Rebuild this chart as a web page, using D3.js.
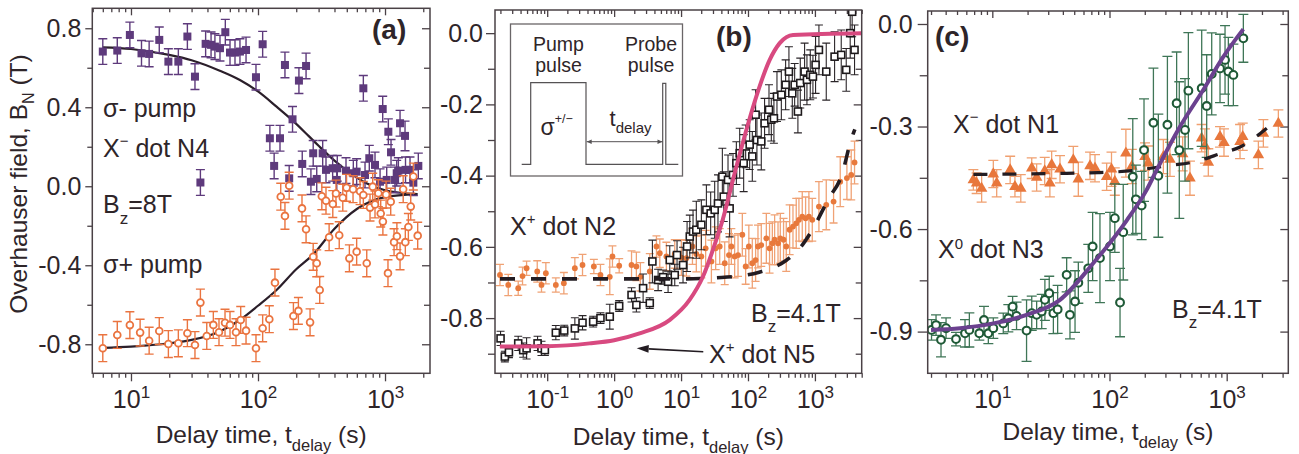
<!DOCTYPE html>
<html>
<head>
<meta charset="utf-8">
<script src="https://cdn.jsdelivr.net/npm/d3@7"></script>
<style>
  body { margin: 0; background: #fff; }
  svg { display: block; }
  svg text { font-family: "Liberation Sans", Arial, Helvetica, sans-serif; fill: #2e2529; }
</style>
</head>
<body>
<svg id="fig" width="1299" height="454"></svg>
<script>
// ---------------- data: [delay time (s), Overhauser field (T), error (T)] ----------------
// (a) dot N4, X- : sigma- pump (filled squares) and sigma+ pump (open circles)
const aSigmaMinus = [
  [6.0,0.682,0.065],[7.8,0.687,0.065],[9.8,0.766,0.065],[12.1,0.673,0.065],[13.9,0.670,0.065],
  [16.7,0.741,0.065],[19.7,0.631,0.065],[23.6,0.631,0.065],[27.8,0.758,0.065],[31.9,0.555,0.065],
  [35.2,0.019,0.065],[38.7,0.721,0.065],[42.7,0.716,0.065],[45.8,0.707,0.065],[50.2,0.699,0.065],
  [55.3,0.780,0.065],[60.2,0.677,0.065],[65.9,0.677,0.065],[72.1,0.682,0.065],[80.5,0.690,0.065],
  [96.4,0.552,0.065],[108.8,0.719,0.065],[124,0.243,0.065],[134,0.103,0.065],[149,0.243,0.065],
  [163,0.614,0.065],[176,0.040,0.065],[187,0.339,0.065],[210,0.535,0.065],[223,0.113,0.065],
  [239,0.609,0.065],[261,0.023,0.065],[272,0.167,0.065],[290,0.037,0.065],[323,0.167,0.065],
  [343,0.083,0.065],[387,0.091,0.065],[417,0.032,0.065],[421,0.091,0.065],[493,0.079,0.065],
  [563,0.066,0.065],[598,0.074,0.065],[675,0.496,0.065],[696,0.057,0.065],[752,0.142,0.065],
  [834,0.108,0.065],[914,0.023,0.065],[959,0.391,0.065],[1031,0.032,0.065],[1062,0.276,0.065],
  [1115,0.172,0.065],[1199,0.032,0.065],[1236,0.066,0.065],[1274,0.079,0.065],[1313,0.319,0.065],
  [1437,0.255,0.075],[1450,0.083,0.065],[1573,0.083,0.065],[1671,0.018,0.065],[1829,0.103,0.065]
];
const aSigmaPlus = [
  [6.0,-0.820,0.068],[7.8,-0.753,0.068],[9.8,-0.703,0.068],[11.8,-0.741,0.068],[13.9,-0.782,0.068],
  [16.7,-0.733,0.068],[19.7,-0.799,0.068],[23.6,-0.795,0.068],[27.8,-0.744,0.068],[31.9,-0.804,0.068],
  [35.2,-0.589,0.068],[39.5,-0.758,0.068],[44.5,-0.702,0.068],[49.3,-0.739,0.068],[55,-0.691,0.068],
  [60.2,-0.702,0.068],[67.1,-0.739,0.068],[73.1,-0.677,0.068],[80.5,-0.731,0.068],[96.4,-0.820,0.068],
  [108.8,-0.719,0.068],[122.8,-0.673,0.068],[136,-0.488,0.068],[151,-0.053,0.068],[163,-0.150,0.068],
  [176,0.003,0.068],[190,-0.657,0.068],[208,-0.631,0.068],[222,-0.112,0.068],[239,-0.218,0.068],
  [257,-0.689,0.068],[272,-0.357,0.068],[290,-0.390,0.068],[306,-0.525,0.068],[318,-0.051,0.068],
  [343,-0.073,0.068],[363,-0.258,0.068],[388,-0.090,0.068],[411,-0.037,0.068],[436,-0.248,0.068],
  [465,-0.058,0.068],[498,-0.008,0.068],[524,-0.365,0.068],[560,-0.015,0.068],[598,-0.331,0.068],
  [636,-0.025,0.068],[675,-0.044,0.068],[718,-0.390,0.068],[762,-0.108,0.068],[800,-0.002,0.068],
  [834,-0.092,0.068],[886,-0.035,0.068],[925,-0.138,0.068],[962,-0.179,0.068],[1019,-0.042,0.068],
  [1055,-0.440,0.068],[1109,-0.078,0.068],[1178,-0.283,0.068],[1240,-0.253,0.068],[1313,-0.355,0.068],
  [1390,-0.015,0.068],[1445,-0.283,0.068],[1527,-0.206,0.068],[1594,-0.103,0.068],[1671,0.049,0.068],
  [1808,-0.250,0.068]
];
// fitted decay curves, (a)
const aFitMinus = [[6,0.703],[10,0.695],[20,0.665],[30,0.638],[50,0.585],[72,0.538],[100,0.48],[140,0.403],
  [185,0.336],[250,0.255],[300,0.205],[400,0.13],[550,0.06],[700,0.018],[1000,-0.02],[1800,-0.04]];
const aFitPlus = [[6,-0.818],[10,-0.812],[20,-0.795],[30,-0.778],[50,-0.735],[72,-0.677],[100,-0.605],
  [140,-0.525],[200,-0.42],[272,-0.345],[400,-0.215],[600,-0.115],[1000,-0.055],[1800,-0.04]];

// (b) X+ dot N5 (open squares) and X+ dot N2 (orange dots)
const bDotN5 = [
  [0.0201,-0.857,0.02],[0.0233,-0.908,0.015],[0.0268,-0.896,0.015],[0.0369,-0.871,0.02],[0.0438,-0.890,0.02],
  [0.0492,-0.885,0.03],[0.0718,-0.871,0.02],[0.0822,-0.885,0.02],[0.0923,-0.890,0.015],[0.1346,-0.841,0.02],
  [0.1795,-0.835,0.015],[0.259,-0.829,0.03],[0.337,-0.813,0.02],[0.486,-0.810,0.015],[0.625,-0.800,0.015],
  [0.861,-0.796,0.035],[1.19,-0.766,0.015],[1.82,-0.735,0.02],[2.15,-0.763,0.02],[2.71,-0.716,0.04],
  [3.41,-0.758,0.015],[3.73,-0.641,0.06],[4.54,-0.693,0.03],[5.39,-0.685,0.02],[6.4,-0.698,0.03],
  [6.78,-0.637,0.04],[8.05,-0.679,0.03],[8.71,-0.623,0.04],[10.7,-0.651,0.05],[12.3,-0.599,0.07],
  [13.5,-0.571,0.06],[15.1,-0.557,0.06],[16.9,-0.552,0.08],[20.1,-0.538,0.07],[23.9,-0.496,0.07],
  [27.7,-0.506,0.06],[31.8,-0.496,0.08],[35.6,-0.478,0.08],[41.4,-0.403,0.08],[43.4,-0.459,0.07],
  [50.3,-0.412,0.07],[53.2,-0.492,0.08],[59.7,-0.398,0.06],[67,-0.365,0.06],[75.2,-0.337,0.07],
  [86.2,-0.365,0.08],[92.3,-0.318,0.06],[106,-0.313,0.07],[116,-0.346,0.07],[130,-0.229,0.07],
  [136,-0.300,0.07],[158,-0.304,0.08],[177,-0.253,0.07],[206,-0.215,0.07],[223,-0.243,0.06],
  [244,-0.239,0.07],[271,-0.178,0.07],[315,-0.173,0.07],[365,-0.145,0.07],[409,-0.108,0.07],
  [459,-0.169,0.07],[498,-0.145,0.06],[557,-0.220,0.06],[604,-0.140,0.07],[701,-0.108,0.08],
  [760,-0.131,0.07],[852,-0.117,0.07],[934,-0.122,0.06],[1023,-0.089,0.08],[1148,-0.047,0.07],
  [1477,-0.108,0.08],[1968,-0.066,0.07],[2473,-0.061,0.07],[2937,-0.103,0.06],[3365,0.000,0.07],
  [3600,0.060,0.07],[3909,-0.047,0.07]
];
const bDotN2 = [
  [0.0197,-0.679,0.03],[0.0262,-0.707,0.03],[0.0369,-0.716,0.02],[0.0428,-0.682,0.025],[0.0492,-0.660,0.02],
  [0.071,-0.669,0.03],[0.0822,-0.707,0.02],[0.0955,-0.674,0.03],[0.1346,-0.707,0.02],[0.1774,-0.702,0.03],
  [0.259,-0.660,0.03],[0.337,-0.651,0.03],[0.498,-0.655,0.02],[0.625,-0.679,0.03],[0.861,-0.684,0.05],
  [0.944,-0.627,0.03],[1.19,-0.653,0.02],[1.82,-0.651,0.04],[2.15,-0.655,0.04],[2.47,-0.684,0.04],
  [3.41,-0.669,0.05],[4.29,-0.599,0.03],[4.81,-0.618,0.04],[6.04,-0.627,0.04],[8.05,-0.620,0.04],
  [10.1,-0.630,0.05],[12.0,-0.632,0.05],[14.8,-0.599,0.05],[16.9,-0.620,0.05],[20.1,-0.627,0.06],
  [23.3,-0.604,0.05],[28.4,-0.641,0.06],[32.9,-0.604,0.06],[37.8,-0.599,0.05],[44.9,-0.646,0.06],
  [52,-0.623,0.06],[56.4,-0.599,0.05],[63.2,-0.627,0.06],[71,-0.623,0.06],[82.3,-0.566,0.06],
  [92.3,-0.655,0.05],[103,-0.599,0.06],[116,-0.646,0.07],[130,-0.637,0.06],[141,-0.599,0.06],
  [158,-0.595,0.06],[188,-0.576,0.07],[210,-0.604,0.07],[231,-0.590,0.06],[250,-0.580,0.07],
  [281,-0.590,0.06],[304,-0.576,0.07],[340,-0.580,0.06],[373,-0.599,0.07],[419,-0.552,0.07],
  [470,-0.543,0.06],[526,-0.534,0.07],[577,-0.524,0.06],[647,-0.515,0.07],[726,-0.520,0.06],
  [813,-0.515,0.07],[913,-0.524,0.06],[1148,-0.487,0.07],[1477,-0.482,0.07],[1900,-0.473,0.06],
  [2389,-0.417,0.07],[3006,-0.407,0.06],[3487,-0.398,0.07],[3909,-0.363,0.06]
];
const bFitN5 = [[0.0196,-0.88],[0.1,-0.879],[0.43,-0.871],[1,-0.862],[2.4,-0.843],[6.8,-0.805],[13.4,-0.749],
  [21.2,-0.684],[33.5,-0.581],[41.9,-0.524],[59.6,-0.412],[94.5,-0.272],[133,-0.178],[211,-0.075],
  [298,-0.028],[472,-0.005],[5000,0]];
const bFitN2 = [[0.0197,-0.69],[10,-0.69],[40,-0.686],[147,-0.671],[365,-0.639],[600,-0.603],[882,-0.557],
  [1590,-0.466],[2555,-0.395],[3450,-0.301],[3950,-0.27]];

// (c) X0 dot N3 (open circles) and X- dot N1 (triangles)
const cDotN3 = [
  [3.03,-0.895,0.03],[3.31,-0.881,0.03],[3.65,-0.924,0.05],[4.03,-0.890,0.03],[4.9,-0.922,0.02],
  [5.85,-0.905,0.04],[6.37,-0.895,0.05],[7.75,-0.905,0.02],[8.49,-0.866,0.04],[9.25,-0.905,0.03],
  [10.2,-0.890,0.03],[12.4,-0.876,0.03],[13.7,-0.861,0.04],[14.9,-0.827,0.03],[16.1,-0.854,0.04],
  [19.6,-0.897,0.09],[21.7,-0.846,0.05],[23.9,-0.851,0.04],[26.4,-0.841,0.05],[28.1,-0.807,0.06],
  [30.6,-0.788,0.05],[33.2,-0.846,0.06],[36.1,-0.835,0.07],[43.1,-0.734,0.05],[46,-0.851,0.07],
  [50.8,-0.812,0.09],[54.2,-0.757,0.06],[65.9,-0.715,0.07],[71.8,-0.651,0.1],[82.9,-0.685,0.13],
  [101,-0.651,0.1],[111,-0.568,0.1],[123,-0.815,0.1],[131,-0.609,0.14],[158,-0.447,0.17],
  [168,-0.513,0.1],[188,-0.531,0.1],[197,-0.369,0.15],[237,-0.289,0.16],[261,-0.444,0.18],
  [312,-0.295,0.2],[374,-0.232,0.15],[394,-0.369,0.2],[441,-0.310,0.15],[471,-0.195,0.17],
  [612,-0.188,0.17],[675,-0.240,0.15],[745,-0.146,0.12],[877,-0.130,0.1],[968,-0.105,0.1],
  [1033,-0.139,0.1],[1140,-0.149,0.09],[1387,-0.042,0.07]
];
const cDotN1 = [
  [6.89,-0.456,0.03],[7.35,-0.466,0.03],[8.11,-0.481,0.04],[10.2,-0.439,0.04],[10.9,-0.466,0.04],
  [14.2,-0.427,0.04],[15.6,-0.476,0.03],[17.5,-0.481,0.04],[21.7,-0.422,0.03],[23.9,-0.449,0.04],
  [28,-0.430,0.04],[31,-0.466,0.04],[32.1,-0.412,0.04],[37.8,-0.425,0.04],[49.1,-0.398,0.04],
  [54.2,-0.454,0.05],[68.2,-0.415,0.04],[75.2,-0.422,0.04],[94.6,-0.447,0.04],[104,-0.425,0.05],
  [111,-0.461,0.04],[138,-0.378,0.07],[155,-0.417,0.05],[201,-0.388,0.04],[214,-0.407,0.05],
  [288,-0.388,0.05],[328,-0.396,0.05],[421,-0.380,0.05],[486,-0.451,0.05],[611,-0.334,0.04],
  [652,-0.357,0.05],[697,-0.405,0.04],[877,-0.330,0.03],[948,-0.347,0.04],[1300,-0.344,0.05],
  [1371,-0.330,0.04],[1864,-0.383,0.04],[2056,-0.320,0.04],[2760,-0.291,0.04]
];
const cFitN3 = [[3.0,-0.895],[5.3,-0.89],[10.2,-0.876],[19.6,-0.851],[37.8,-0.807],[72.6,-0.70],[140,-0.575],
  [207,-0.486],[253,-0.427],[400,-0.30],[630,-0.193],[935,-0.096],[1387,-0.015]];
const cFitN1 = [[6.9,-0.44],[43,-0.437],[80,-0.435],[158,-0.429],[307,-0.415],[536,-0.403],[906,-0.378],
  [1300,-0.36],[2200,-0.305]];

// tick values
const aYMajor = [0.8, 0.4, 0.0, -0.4, -0.8], aYMinor = [0.6, 0.2, -0.2, -0.6], aXExp = [1, 2, 3];
const bYMajor = [0.0, -0.2, -0.4, -0.6, -0.8], bYMinor = [-0.1, -0.3, -0.5, -0.7, -0.9], bXExp = [-1, 0, 1, 2, 3];
const cYMajor = [0.0, -0.3, -0.6, -0.9], cYMinor = [-0.15, -0.45, -0.75], cXExp = [1, 2, 3];

// ---------------- drawing ----------------
const svg = d3.select('#fig');
const INK = '#2e2529', FRAME = '#4a4146';
const FONT = '"Liberation Sans", Arial, Helvetica, sans-serif';
const TICK_FONT = 25, LABEL_FONT = 25;
const fmtY = d => (d < 0 ? '-' : '') + Math.abs(d).toFixed(1);

function buildPanel(o) {
  const x = d3.scaleLog().domain(o.xDomain).range([o.left, o.right]);
  const y = d3.scaleLinear().domain(o.yDomain).range([o.bottom, o.top]);
  const g = svg.append('g');

  const xMajor = o.xExp.map(e => Math.pow(10, e));
  const xMinor = [];
  const e0 = Math.floor(Math.log10(o.xDomain[0])), e1 = Math.ceil(Math.log10(o.xDomain[1]));
  for (let e = e0; e <= e1; e++)
    for (let k = 2; k < 10; k++) {
      const v = k * Math.pow(10, e);
      if (v >= o.xDomain[0] && v <= o.xDomain[1]) xMinor.push(v);
    }

  const style = sel => {
    sel.select('.domain').remove();
    sel.attr('font-family', FONT).attr('font-size', TICK_FONT).attr('color', INK);
    sel.selectAll('line').attr('stroke', FRAME).attr('stroke-width', 1.3);
  };

  // bottom axis (outward) with 10^n labels
  g.append('g').attr('transform', `translate(0,${o.bottom})`)
    .call(d3.axisBottom(x).tickValues(xMajor).tickSize(8).tickPadding(9).tickFormat(d => d))
    .call(style)
    .call(s => s.selectAll('.tick text').each(function (d) {
      const ex = Math.round(Math.log10(d));
      const t = d3.select(this).text(null).attr('fill', INK);
      t.append('tspan').text('10');
      t.append('tspan').attr('font-size', 17).attr('dy', -10).text(ex < 0 ? '-' + (-ex) : String(ex));
    }));
  g.append('g').attr('transform', `translate(0,${o.bottom})`)
    .call(d3.axisBottom(x).tickValues(xMinor).tickSize(4.5).tickFormat(''))
    .call(style);
  // top mirror (inward)
  g.append('g').attr('transform', `translate(0,${o.top})`)
    .call(d3.axisBottom(x).tickValues(xMajor).tickSize(7).tickFormat(''))
    .call(style);
  g.append('g').attr('transform', `translate(0,${o.top})`)
    .call(d3.axisBottom(x).tickValues(xMinor).tickSize(4).tickFormat(''))
    .call(style);

  // left axis (outward)
  g.append('g').attr('transform', `translate(${o.left},0)`)
    .call(d3.axisLeft(y).tickValues(o.yMajor).tickSize(o.yTick).tickPadding(o.yPad).tickFormat(fmtY))
    .call(style)
    .call(s => s.selectAll('.tick text').attr('fill', INK).attr('dy', '0.33em'));
  g.append('g').attr('transform', `translate(${o.left},0)`)
    .call(d3.axisLeft(y).tickValues(o.yMinor).tickSize(o.yTick - 2).tickFormat(''))
    .call(style);
  // right mirror (inward)
  g.append('g').attr('transform', `translate(${o.right},0)`)
    .call(d3.axisLeft(y).tickValues(o.yMajor).tickSize(8).tickFormat(''))
    .call(style);
  g.append('g').attr('transform', `translate(${o.right},0)`)
    .call(d3.axisLeft(y).tickValues(o.yMinor).tickSize(6).tickFormat(''))
    .call(style);

  // x axis title
  const xt = g.append('text').attr('x', (o.left + o.right) / 2).attr('y', o.titleY)
    .attr('text-anchor', 'middle').attr('font-size', 24.5);
  xt.append('tspan').text('Delay time, t');
  xt.append('tspan').attr('font-size', 16.5).attr('dy', 7.5).text('delay');
  xt.append('tspan').attr('dy', -7.5).text(' (s)');

  const clipId = 'clip-' + o.id;
  svg.append('clipPath').attr('id', clipId).append('rect')
    .attr('x', o.left).attr('y', o.top).attr('width', o.right - o.left).attr('height', o.bottom - o.top);
  const plot = g.append('g').attr('clip-path', `url(#${clipId})`);
  const over = g.append('g');

  return { x, y, g, plot, over, o };
}

function frame(p) {
  p.g.append('rect').attr('x', p.o.left).attr('y', p.o.top)
    .attr('width', p.o.right - p.o.left).attr('height', p.o.bottom - p.o.top)
    .attr('fill', 'none').attr('stroke', FRAME).attr('stroke-width', 1.5);
}

function errorBars(p, data, color, cap, width) {
  const gg = p.plot.append('g').attr('stroke', color).attr('stroke-width', width || 1.3).attr('fill', 'none');
  gg.selectAll('path').data(data).join('path').attr('d', d => {
    const cx = p.x(d[0]), y0 = p.y(d[1] - d[2]), y1 = p.y(d[1] + d[2]);
    return `M${cx},${y0}V${y1}M${cx - cap},${y0}H${cx + cap}M${cx - cap},${y1}H${cx + cap}`;
  });
}

function curve(p, pts, color, width, dash) {
  const line = d3.line().x(d => p.x(d[0])).y(d => p.y(d[1])).curve(d3.curveMonotoneX);
  const path = p.plot.append('path').datum(pts).attr('d', line)
    .attr('fill', 'none').attr('stroke', color).attr('stroke-width', width)
    .attr('stroke-linecap', 'butt');
  if (dash) path.attr('stroke-dasharray', dash);
}

function squares(p, data, size, fill, stroke, sw) {
  p.plot.append('g').selectAll('rect').data(data).join('rect')
    .attr('x', d => p.x(d[0]) - size / 2).attr('y', d => p.y(d[1]) - size / 2)
    .attr('width', size).attr('height', size)
    .attr('fill', fill).attr('stroke', stroke || 'none').attr('stroke-width', sw || 0);
}

function circles(p, data, r, fill, stroke, sw) {
  p.plot.append('g').selectAll('circle').data(data).join('circle')
    .attr('cx', d => p.x(d[0])).attr('cy', d => p.y(d[1])).attr('r', r)
    .attr('fill', fill).attr('stroke', stroke || 'none').attr('stroke-width', sw || 0);
}

function triangles(p, data, area, fill) {
  const sym = d3.symbol(d3.symbolTriangle, area);
  p.plot.append('g').selectAll('path').data(data).join('path')
    .attr('transform', d => `translate(${p.x(d[0])},${p.y(d[1])})`)
    .attr('d', sym).attr('fill', fill);
}

// rich text: parts = [[text, 'n'|'sup'|'sub'], ...]
function richText(parent, x, y, parts, size, opts) {
  opts = opts || {};
  const t = parent.append('text').attr('x', x).attr('y', y).attr('font-size', size);
  if (opts.weight) t.attr('font-weight', opts.weight);
  if (opts.anchor) t.attr('text-anchor', opts.anchor);
  if (opts.fill) t.attr('fill', opts.fill);
  let shift = 0;
  parts.forEach(([s, kind]) => {
    const target = kind === 'sup' ? (opts.supShift || -10) : kind === 'sub' ? (opts.subShift || 10) : 0;
    const sp = t.append('tspan').attr('dy', target - shift).text(s);
    if (kind !== 'n') sp.attr('font-size', opts.smallSize || 16);
    shift = target;
  });
  return t;
}

// ---------- panel (a) ----------
const pa = buildPanel({ id: 'a', left: 92.3, right: 430, top: 8.3, bottom: 373.3,
  xDomain: [4.96, 2260], yDomain: [-0.947, 0.901], yMajor: aYMajor, yMinor: aYMinor, xExp: aXExp,
  yTick: 7, yPad: 4, titleY: 443 });
curve(pa, aFitMinus, '#2b1f2a', 2.2);
curve(pa, aFitPlus, '#2b1f2a', 2.2);
errorBars(pa, aSigmaMinus, '#5e3a7c', 4.5, 1.4);
squares(pa, aSigmaMinus, 8, '#5e3a7c');
errorBars(pa, aSigmaPlus, '#ea7440', 4.5, 1.4);
circles(pa, aSigmaPlus, 3.4, '#fff', '#ea7440', 1.8);
frame(pa);

// y axis title (shared)
const yt = svg.append('text').attr('transform', 'translate(27,184) rotate(-90)')
  .attr('text-anchor', 'middle').attr('font-size', 24.5);
yt.append('tspan').text('Overhauser field, B');
yt.append('tspan').attr('font-size', 16).attr('dy', 7).text('N');
yt.append('tspan').attr('dy', -7).text(' (T)');

richText(pa.g, 103, 117, [['σ- pump', 'n']], LABEL_FONT);
richText(pa.g, 103, 157, [['X', 'n'], ['−', 'sup'], [' dot N4', 'n']], LABEL_FONT, { supShift: -11, smallSize: 15 });
richText(pa.g, 103, 213, [['B', 'n'], ['z', 'sub'], ['=8T', 'n']], LABEL_FONT, { subShift: 11, smallSize: 17 });
richText(pa.g, 103, 273, [['σ+ pump', 'n']], LABEL_FONT);
richText(pa.g, 372, 39, [['(a)', 'n']], 28, { weight: 'bold' });

// ---------- panel (b) ----------
const pb = buildPanel({ id: 'b', left: 495, right: 861.7, top: 10, bottom: 373.3,
  xDomain: [0.0166, 5000], yDomain: [-0.955, 0.065], yMajor: bYMajor, yMinor: bYMinor, xExp: bXExp,
  yTick: 9, yPad: 3, titleY: 445 });
errorBars(pb, bDotN2, '#f0a275', 4, 1.3);
circles(pb, bDotN2, 2.9, '#e8793c');
errorBars(pb, bDotN5, '#2a2528', 4, 1.1);
squares(pb, bDotN5, 7, '#fff', '#1e1a1c', 1.6);
curve(pb, bFitN2, '#231c22', 3.6, '15 16');
curve(pb, bFitN5, '#d84a80', 4);
frame(pb);

richText(pb.g, 510, 235, [['X', 'n'], ['+', 'sup'], [' dot N2', 'n']], LABEL_FONT, { supShift: -11, smallSize: 15 });
richText(pb.g, 751, 321.7, [['B', 'n'], ['z', 'sub'], ['=4.1T', 'n']], LABEL_FONT, { subShift: 10, smallSize: 17 });
richText(pb.g, 709, 363, [['X', 'n'], ['+', 'sup'], [' dot N5', 'n']], LABEL_FONT, { supShift: -11, smallSize: 15 });
richText(pb.g, 716, 46, [['(b)', 'n']], 28, { weight: 'bold' });

// arrow pointing at the N5 fit
(() => {
  const tail = [703.3, 351.7], tip = [636.7, 348.3];
  const ang = Math.atan2(tip[1] - tail[1], tip[0] - tail[0]);
  const L = 12, Wd = 3.8;
  const bx = tip[0] - L * Math.cos(ang), by = tip[1] - L * Math.sin(ang);
  pb.over.append('line').attr('x1', tail[0]).attr('y1', tail[1]).attr('x2', bx).attr('y2', by)
    .attr('stroke', '#231c22').attr('stroke-width', 1.6);
  pb.over.append('path').attr('d',
    `M${tip[0]},${tip[1]}L${bx - Wd * Math.sin(ang)},${by + Wd * Math.cos(ang)}L${bx + Wd * Math.sin(ang)},${by - Wd * Math.cos(ang)}Z`)
    .attr('fill', '#231c22');
})();

// inset: pump / probe pulse sequence
(() => {
  const ix = 510.5, iy = 24, iw = 172, ih = 152;
  const ins = pb.over.append('g').attr('transform', `translate(${ix},${iy})`);
  ins.append('rect').attr('width', iw).attr('height', ih).attr('fill', '#fff')
    .attr('stroke', '#6a6668').attr('stroke-width', 1.3);
  const base = 140.3, high = 58.7;
  const pulse = d3.path();
  pulse.moveTo(11.2, base); pulse.lineTo(20.2, base); pulse.lineTo(20.2, high); pulse.lineTo(75.5, high);
  pulse.lineTo(75.5, base); pulse.lineTo(152.2, base); pulse.lineTo(152.2, high + 0.6);
  pulse.lineTo(155.3, high + 0.6); pulse.lineTo(155.3, base); pulse.lineTo(167.8, base);
  ins.append('path').attr('d', pulse.toString()).attr('fill', 'none')
    .attr('stroke', '#555254').attr('stroke-width', 1.2);
  // t_delay double arrow
  const ay = 117.7, ax0 = 76.2, ax1 = 152;
  ins.append('line').attr('x1', ax0).attr('x2', ax1).attr('y1', ay).attr('y2', ay)
    .attr('stroke', '#555254').attr('stroke-width', 1);
  ins.append('path').attr('d', `M${ax0},${ay}l5,-2.2v4.4Z M${ax1},${ay}l-5,-2.2v4.4Z`).attr('fill', '#555254');
  const ink = '#3a3438';
  richText(ins, 48, 26.5, [['Pump', 'n']], 19.5, { anchor: 'middle', fill: ink });
  richText(ins, 48, 48, [['pulse', 'n']], 19.5, { anchor: 'middle', fill: ink });
  richText(ins, 140.5, 26.5, [['Probe', 'n']], 19.5, { anchor: 'middle', fill: ink });
  richText(ins, 140.5, 48, [['pulse', 'n']], 19.5, { anchor: 'middle', fill: ink });
  richText(ins, 30, 111, [['σ', 'n'], ['+/−', 'sup']], 23, { supShift: -12, smallSize: 12.5, fill: ink });
  richText(ins, 99, 102, [['t', 'n'], ['delay', 'sub']], 22, { subShift: 7, smallSize: 15, fill: ink });
})();

// ---------- panel (c) ----------
const pc = buildPanel({ id: 'c', left: 927.7, right: 1288.3, top: 11, bottom: 373.3,
  xDomain: [2.81, 3355], yDomain: [-1.022, 0.038], yMajor: cYMajor, yMinor: cYMinor, xExp: cXExp,
  yTick: 10, yPad: 5, titleY: 440 });
errorBars(pc, cDotN1, '#f0a070', 5, 1.3);
triangles(pc, cDotN1, 58, '#e8773c');
errorBars(pc, cDotN3, '#3f7657', 5, 1.3);
circles(pc, cDotN3, 3.9, '#fff', '#1f5a37', 2.1);
curve(pc, cFitN1, '#231c22', 3.2, '14 15');
curve(pc, cFitN3, '#6b418f', 4);
frame(pc);

richText(pc.g, 953, 133, [['X', 'n'], ['−', 'sup'], [' dot N1', 'n']], LABEL_FONT, { supShift: -11, smallSize: 15 });
richText(pc.g, 938, 258, [['X', 'n'], ['0', 'sup'], [' dot N3', 'n']], LABEL_FONT, { supShift: -9, smallSize: 15 });
richText(pc.g, 1172, 318, [['B', 'n'], ['z', 'sub'], ['=4.1T', 'n']], LABEL_FONT, { subShift: 10, smallSize: 17 });
richText(pc.g, 935, 46, [['(c)', 'n']], 28, { weight: 'bold' });
</script>
</body>
</html>
